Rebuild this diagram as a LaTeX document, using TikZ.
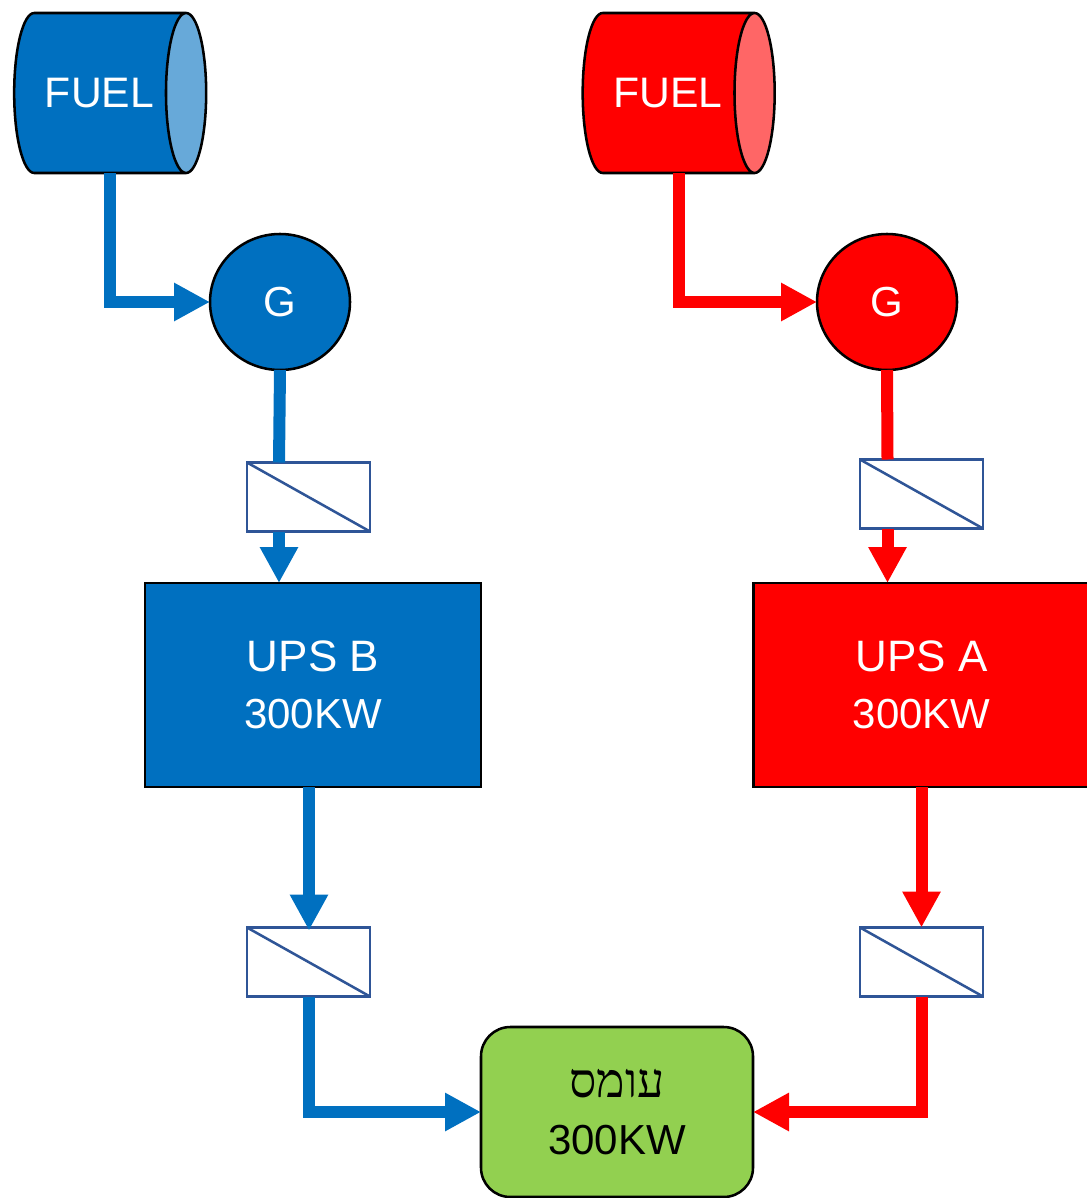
\documentclass[tikz,border=0pt]{standalone}
\usepackage{fontspec}
\setmainfont{Liberation Sans}
\newfontfamily\hebfont[Script=Hebrew]{Liberation Serif}
\TeXXeTstate=1
\usetikzlibrary{arrows.meta,calc,shapes.geometric}
\definecolor{feedB}{HTML}{0070C0}
\definecolor{feedBlight}{HTML}{67A9D9}
\definecolor{feedA}{HTML}{FF0000}
\definecolor{feedAlight}{HTML}{FF6666}
\definecolor{loadgreen}{HTML}{92D050}
\definecolor{convblue}{HTML}{2F5597}
\newcommand{\bigline}{\fontsize{33}{42.75}\selectfont}
\begin{document}
\begin{tikzpicture}[x=0.75pt,y=-0.75pt,
    every node/.style={font=\fontsize{31.5}{42.75}\selectfont,inner sep=0pt,outer sep=0pt,align=center},
    fuel/.style={cylinder,shape aspect=1.35,draw=black,line width=1.9pt,text=white,font=\fontsize{32}{42.75}\selectfont,minimum width=120pt,minimum height=144pt,cylinder uses custom fill,cylinder body fill=#1,cylinder end fill=#1light},
    gen/.style={ellipse,draw=black,line width=1.9pt,fill=#1,text=white,minimum width=105pt,minimum height=102pt},
    ups/.style={rectangle,draw=black,line width=1.9pt,fill=#1,text=white,minimum width=252pt,minimum height=153pt},
    conv/.style={rectangle,draw=convblue,line width=1.9pt,fill=white,minimum width=92.25pt,minimum height=51.75pt},
    convline/.style={draw=convblue,line width=1.9pt},
    feed/.style={draw=#1,line width=9pt,-{Triangle[length=27pt,width=27pt]},#1}]
    \useasboundingbox (0,0) rectangle (1086,1198);

    % Left branch nodes
    \node[fuel=feedB] (fuelB) at (99.5,93) {FUEL};
    \node[gen=feedB] (genB) at (280,302) {G};
    \node[ups=feedB] (upsB) at (313,685) {{\bigline UPS B}\\300KW};
    \node[conv] (convB1) at (308.5,497) {};
    \node[conv] (convB2) at (308.5,962) {};

    % Right branch nodes
    \node[fuel=feedA] (fuelA) at (668,93) {FUEL};
    \node[gen=feedA] (genA) at (887,302) {G};
    \node[ups=feedA] (upsA) at (921.5,685) {{\bigline UPS A}\\300KW};
    \node[conv] (convA1) at (921.5,494) {};
    \node[conv] (convA2) at (921.5,962) {};

    % Load
    \node[rectangle,rounded corners=22pt,draw=black,line width=1.9pt,fill=loadgreen,minimum width=204pt,minimum height=127.5pt] (load) at (617,1112) {{\hebfont\fontsize{36}{42.75}\selectfont\beginR עומס\endR}\\300KW};

    % Diagonals of the converters
    \foreach \c in {convB1,convB2,convA1,convA2}
        \draw[convline] (\c.north west) -- (\c.south east);

    % Left branch connectors
    \draw[feed=feedB] ($(fuelB.south)+(10.5,0)$) |- (genB.west);
    \draw[draw=feedB,line width=9pt] (genB.south) -- ($(convB1.north)+(-29.5,0)$);
    \draw[feed=feedB] ($(convB1.south)+(-29.5,0)$) -- ($(upsB.north)+(-34,0)$);
    \draw[feed=feedB] ($(upsB.south)+(-4,0)$) -- ($(convB2.north)+(0.5,3)$);
    \draw[feed=feedB] (convB2.south) |- (load.west);

    % Right branch connectors
    \draw[feed=feedA] ($(fuelA.south)+(10.5,0)$) |- (genA.west);
    \draw[draw=feedA,line width=9pt] (genA.south) -- ($(convA1.north)+(-34,0)$);
    \draw[feed=feedA] ($(convA1.south)+(-34,0)$) -- ($(upsA.north)+(-34,0)$);
    \draw[feed=feedA] (upsA.south) -- (convA2.north);
    \draw[feed=feedA] (convA2.south) |- (load.east);
\end{tikzpicture}
\end{document}
